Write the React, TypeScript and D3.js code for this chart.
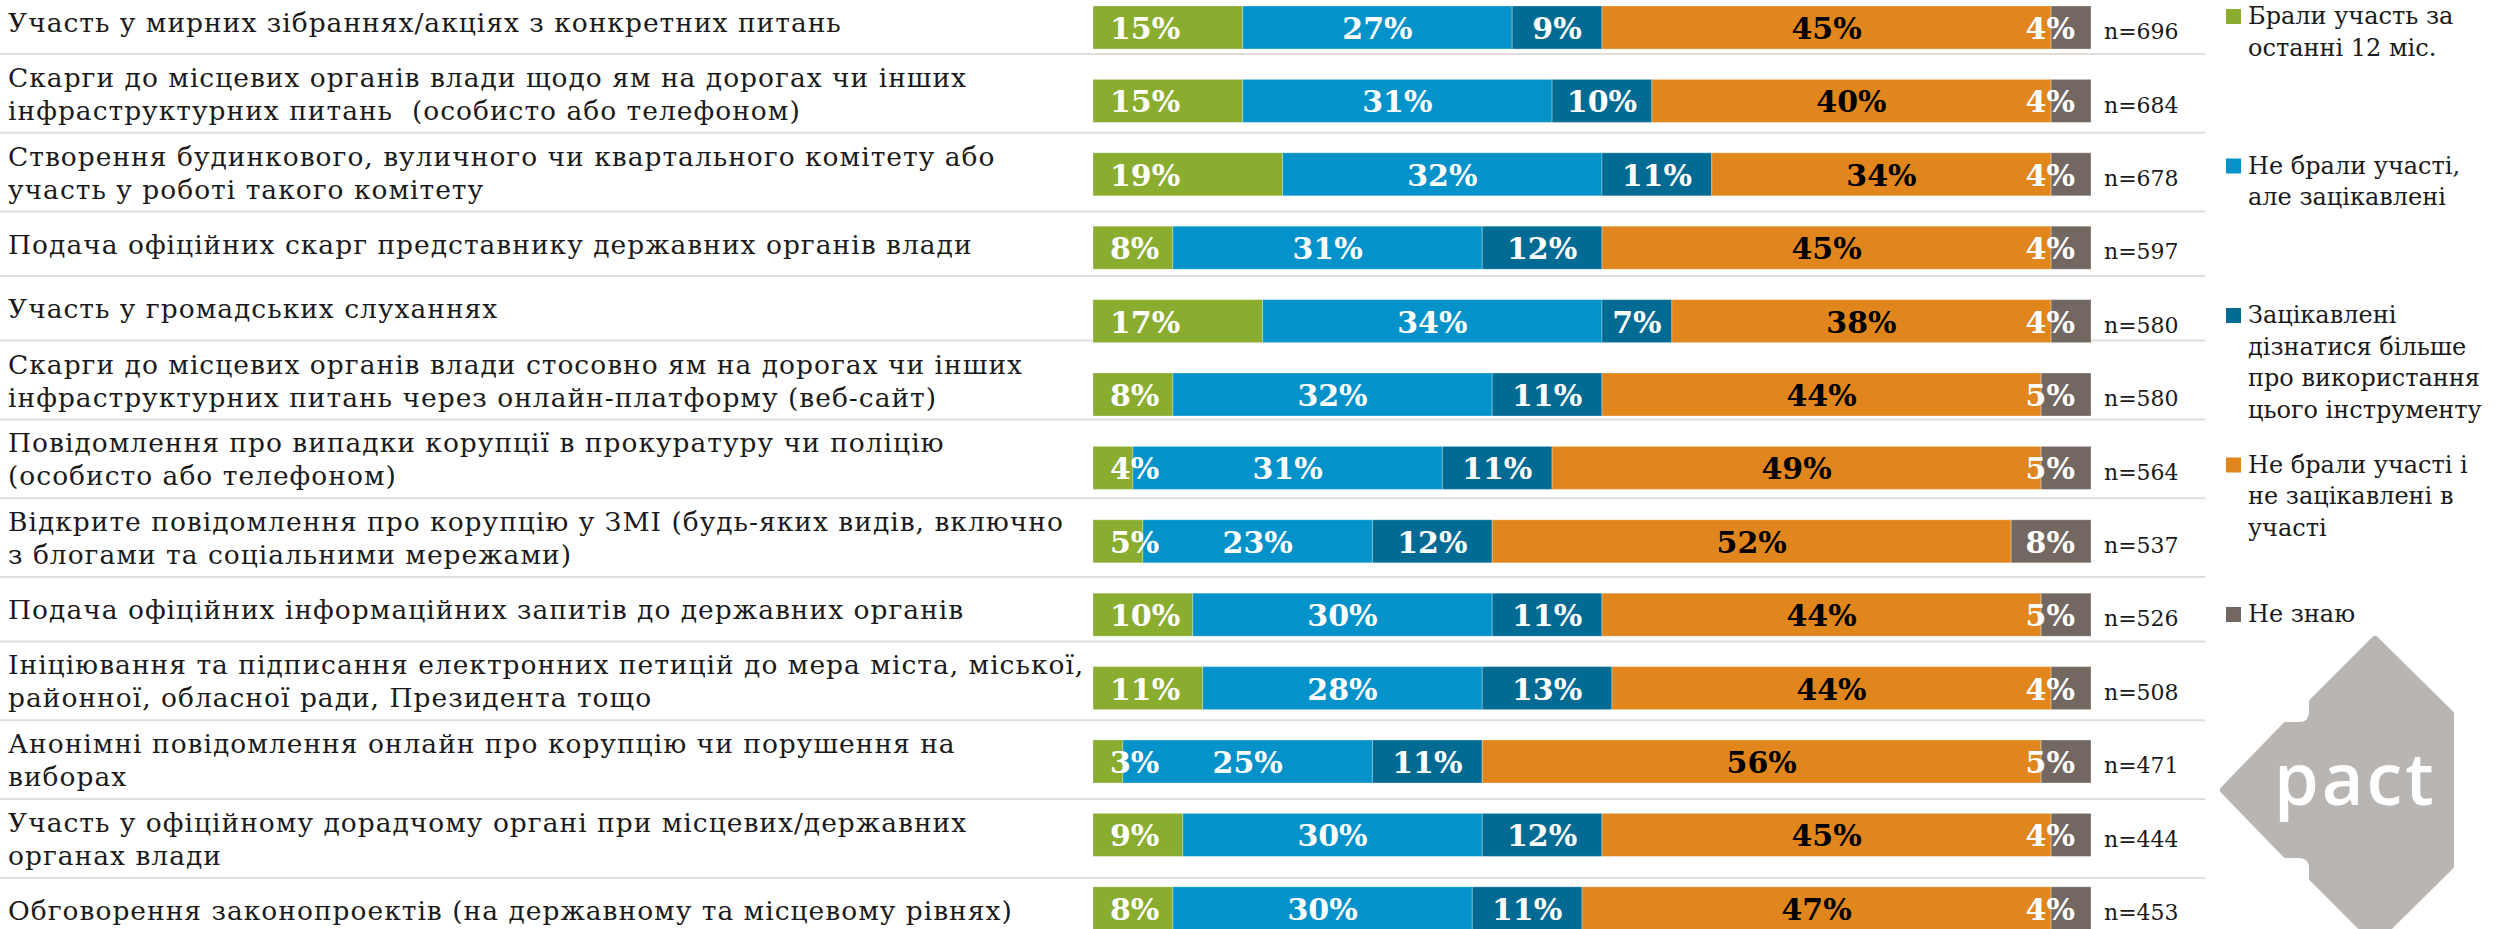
import React from 'react';
import * as d3 from 'd3';

const categories = [
  'Участь у мирних зібраннях/акціях з конкретних питань',
  'Скарги до місцевих органів влади щодо ям на дорогах чи інших\nінфраструктурних питань  (особисто або телефоном)',
  'Створення будинкового, вуличного чи квартального комітету або\nучасть у роботі такого комітету',
  'Подача офіційних скарг представнику державних органів влади',
  'Участь у громадських слуханнях',
  'Скарги до місцевих органів влади стосовно ям на дорогах чи інших\nінфраструктурних питань через онлайн-платформу (веб-сайт)',
  'Повідомлення про випадки корупції в прокуратуру чи поліцію\n(особисто або телефоном)',
  'Відкрите повідомлення про корупцію у ЗМІ (будь-яких видів, включно\nз блогами та соціальними мережами)',
  'Подача офіційних інформаційних запитів до державних органів',
  'Ініціювання та підписання електронних петицій до мера міста, міської,\nрайонної, обласної ради, Президента тощо',
  'Анонімні повідомлення онлайн про корупцію чи порушення на\nвиборах',
  'Участь у офіційному дорадчому органі при місцевих/державних\nорганах влади',
  'Обговорення законопроектів (на державному та місцевому рівнях)',
];

const seriesNames = [
  'Брали участь за\nостанні 12 міс.',
  'Не брали участі,\nале зацікавлені',
  'Зацікавлені\nдізнатися більше\nпро використання\nцього інструменту',
  'Не брали участі і\nне зацікавлені в\nучасті',
  'Не знаю',
];
const seriesKeys = ['took', 'interested', 'learnMore', 'notInterested', 'dontKnow'];
const seriesColors = ['#8AAD30', '#0392C9', '#026B93', '#E1861D', '#726861'];
const seriesTextColors = ['#ffffff', '#ffffff', '#ffffff', '#000000', '#ffffff'];

const took = [15, 15, 19, 8, 17, 8, 4, 5, 10, 11, 3, 9, 8];
const interested = [27, 31, 32, 31, 34, 32, 31, 23, 30, 28, 25, 30, 30];
const learnMore = [9, 10, 11, 12, 7, 11, 11, 12, 11, 13, 11, 12, 11];
const notInterested = [45, 40, 34, 45, 38, 44, 49, 52, 44, 44, 56, 45, 47];
const dontKnow = [4, 4, 4, 4, 4, 5, 5, 8, 5, 4, 5, 4, 4];
const sampleSizes = [696, 684, 678, 597, 580, 580, 564, 537, 526, 508, 471, 444, 453];

const W = 2502;
const H = 929;
const SERIF = '"DejaVu Serif", "Liberation Serif", serif';

export default function App() {
  const rows = categories.map((c, i) => ({
    idx: String(i),
    took: took[i],
    interested: interested[i],
    learnMore: learnMore[i],
    notInterested: notInterested[i],
    dontKnow: dontKnow[i],
  }));
  const stack = d3.stack<any>().keys(seriesKeys);
  const layers = stack(rows);

  const x = d3.scaleLinear().domain([0, 100]).range([1093, 2091]);
  const y = d3
    .scaleBand<string>()
    .domain(rows.map((r) => r.idx))
    .range([6, 929.8])
    .paddingInner(0.414)
    .paddingOuter(0);
  const bw = y.bandwidth();

  // label cells (table rows of variable height)
  const cellH = (n: number) => (n > 1 ? 78.8 : 64.5);
  const cells: { top: number; bottom: number; lines: string[] }[] = [];
  let top = 54 - 64.5;
  categories.forEach((c) => {
    const lines = c.split('\n');
    const h = cellH(lines.length);
    cells.push({ top, bottom: top + h, lines });
    top += h;
  });

  const lineH = 33;
  const legendX = 2226;
  const legendBase = (k: number) => 24 + k * 149.5;

  // logo geometry (decoration)
  const cy = 790;
  const logoPts = [
    [2375, cy - 150],
    [2450, cy - 76],
    [2450, cy + 76],
    [2375, cy + 150],
    [2313, cy + 88],
  ];

  return (
    <svg
      width={W}
      height={H}
      viewBox={`0 0 ${W} ${H}`}
      style={{ position: 'absolute', left: 0, top: 0, background: '#ffffff' }}
    >
      <rect x={0} y={0} width={W} height={H} fill="#ffffff" />
      {/* separators */}
      {cells.slice(0, -1).map((c, i) => (
        <line
          key={'sep' + i}
          x1={0}
          x2={2205}
          y1={c.bottom}
          y2={c.bottom}
          stroke="#e0ddda"
          strokeWidth={2}
        />
      ))}
      {/* category labels */}
      {cells.map((c, i) => {
        const center = (c.top + c.bottom) / 2;
        const n = c.lines.length;
        return (
          <text
            key={'cat' + i}
            fontFamily={SERIF}
            fontSize={26.5}
            letterSpacing={1}
            fill="#1a1a1a"
          >
            {c.lines.map((l, j) => (
              <tspan
                key={j}
                x={8}
                y={center + 10 + (j - (n - 1) / 2) * lineH}
                style={{ whiteSpace: 'pre' }}
              >
                {l}
              </tspan>
            ))}
          </text>
        );
      })}
      {/* bars */}
      {layers.map((layer, si) => (
        <g key={'layer' + si} fill={seriesColors[si]}>
          {layer.map((d, i) => (
            <rect
              key={i}
              x={x(d[0])}
              y={y(String(i))}
              width={x(d[1]) - x(d[0])}
              height={bw}
              stroke="#ffffff"
              strokeOpacity={0.3}
              strokeWidth={1}
            />
          ))}
        </g>
      ))}
      {/* value labels */}
      {layers.map((layer, si) => (
        <g key={'lab' + si}>
          {layer.map((d, i) => {
            const v = d[1] - d[0];
            let tx = (x(d[0]) + x(d[1])) / 2;
            let anchor = 'middle';
            if (si === 0) {
              tx = x(d[0]) + 17;
              anchor = 'start';
            } else if (si === layers.length - 1) {
              tx = x(d[1]) - 16;
              anchor = 'end';
            }
            return (
              <text
                key={i}
                x={tx}
                y={(y(String(i)) as number) + 33}
                textAnchor={anchor}
                fontFamily={SERIF}
                fontWeight="bold"
                fontSize={30}
                fill={seriesTextColors[si]}
              >
                {`${v}%`}
              </text>
            );
          })}
        </g>
      ))}
      {/* n labels */}
      {sampleSizes.map((n, i) => (
        <text
          key={'n' + i}
          x={2104}
          y={(y(String(i)) as number) + 33.3}
          fontFamily={SERIF}
          fontSize={22}
          fill="#1a1a1a"
        >
          {`n=${n}`}
        </text>
      ))}
      {/* legend */}
      {seriesNames.map((name, k) => {
        const b = legendBase(k);
        return (
          <g key={'leg' + k}>
            <rect x={legendX} y={b - 15} width={15} height={15} fill={seriesColors[k]} />
            <text fontFamily={SERIF} fontSize={24} fill="#1a1a1a">
              {name.split('\n').map((l, j) => (
                <tspan key={j} x={2248} y={b + j * 31.5}>
                  {l}
                </tspan>
              ))}
            </text>
          </g>
        );
      })}
      {/* logo */}
      <path
        d={
          `M${logoPts[0][0]},${logoPts[0][1]} L${logoPts[1][0]},${logoPts[1][1]} L${logoPts[2][0]},${logoPts[2][1]} L${logoPts[3][0]},${logoPts[3][1]} L${logoPts[4][0]},${logoPts[4][1]} ` +
          `L2313,${cy + 78} Q2313,${cy + 64} 2299,${cy + 64} L2286,${cy + 64} L2224,${cy} L2286,${cy - 64} L2299,${cy - 64} Q2313,${cy - 64} 2313,${cy - 78} L2313,${cy - 88} Z`
        }
        fill="#B8B5B2"
        stroke="#B8B5B2"
        strokeWidth={8}
        strokeLinejoin="round"
      />
      <text
        x={2274}
        y={805}
        fontFamily='"Open Sans", "Noto Sans", sans-serif'
        fontWeight={600}
        fontSize={72}
        letterSpacing={3}
        fill="#ffffff"
      >
        pact
      </text>
    </svg>
  );
}
